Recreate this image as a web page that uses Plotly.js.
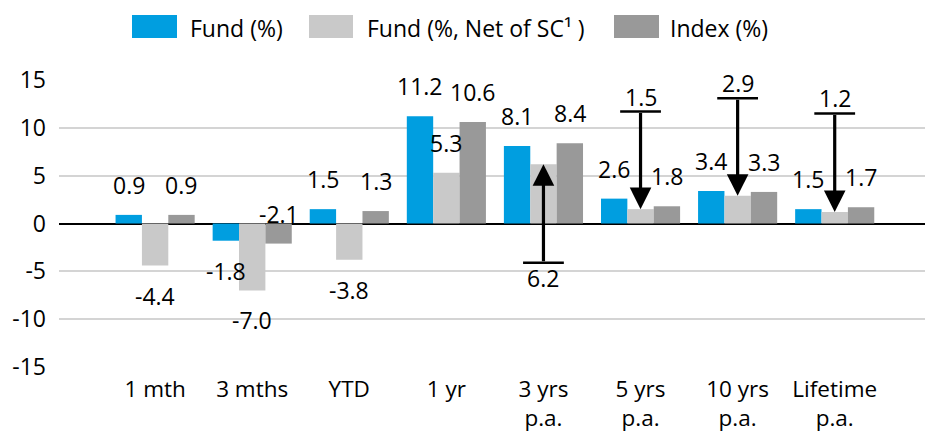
<!DOCTYPE html>
<html>
<head>
<meta charset="utf-8">
<script src="https://cdn.plot.ly/plotly-3.0.1.min.js"></script>
<style>html,body{margin:0;padding:0;background:#fff;}#chart{width:925px;height:433px;}</style>
</head>
<body>
<div id="chart"></div>
<script>
// ---- data ----
const categories = ['1 mth', '3 mths', 'YTD', '1 yr', '3 yrs<br>p.a.', '5 yrs<br>p.a.', '10 yrs<br>p.a.', 'Lifetime<br>p.a.'];
const seriesNames = ['Fund (%)', 'Fund (%, Net of SC\u00B9 )', 'Index (%)'];
const fund = [0.9, -1.8, 1.5, 11.2, 8.1, 2.6, 3.4, 1.5];
const fundNet = [-4.4, -7.0, -3.8, 5.3, 6.2, 1.5, 2.9, 1.2];
const indexVals = [0.9, -2.1, 1.3, 10.6, 8.4, 1.8, 3.3, 1.7];
const yTickVals = [-15, -10, -5, 0, 5, 10, 15];
const yTickText = ['-15', '-10', '-5', '0', '5', '10', '15'];

// ---- styling / layout ----
const colors = ['#009ee0', '#c9c9c9', '#999999'];
const FONT = 'Open Sans, Noto Sans, sans-serif';
const W = 925, H = 433;
const M = {l: 59, r: 0, t: 80, b: 66};
const bargap = 0.185;
const plotW = W - M.l - M.r, plotH = H - M.t - M.b;
const px2x = px => (px - M.l) / plotW;
const px2y = py => (H - M.b - py) / plotH;

const series = [fund, fundNet, indexVals];
const traces = series.map((vals, j) => ({
  type: 'bar', x: categories, y: vals, name: seriesNames[j],
  marker: {color: colors[j], line: {width: 0}},
  showlegend: false, hoverinfo: 'skip'
}));

const barW = (1 - bargap) / 3;
const annotations = [];
const shapes = [];
// net-of-SC values shown as callouts with arrows (categories 4..7)
const callouts = {4: -4.1, 5: 11.7, 6: 13.1, 7: 11.5};
// labels placed on the opposite side of the bar
const flipped = {'2_1': true};

series.forEach((vals, j) => {
  vals.forEach((v, i) => {
    if (j === 1 && callouts[i] !== undefined) return;
    let side = v >= 0 ? 1 : -1;
    if (flipped[j + '_' + i]) side = -side;
    annotations.push({
      x: i + (j - 1) * barW, y: v, xref: 'x', yref: 'y',
      text: v.toFixed(1), showarrow: false, yshift: side * 30,
      font: {family: FONT, size: 23, color: '#000'},
      xanchor: 'center', yanchor: 'middle'
    });
  });
});

Object.keys(callouts).forEach(k => {
  const i = +k, lineY = callouts[k], v = fundNet[i];
  const below = lineY < v;
  shapes.push({type: 'line', xref: 'x', yref: 'y', x0: i - 0.21, x1: i + 0.21, y0: lineY, y1: lineY,
    line: {color: '#000', width: 2.5}});
  annotations.push({x: i, y: v, xref: 'x', yref: 'y', axref: 'x', ayref: 'y', ax: i, ay: lineY,
    text: '', showarrow: true, arrowhead: 2, arrowsize: 1.35, arrowwidth: 3.2, arrowcolor: '#000',
    standoff: 0, startstandoff: 0});
  annotations.push({x: i, y: lineY, xref: 'x', yref: 'y', text: v.toFixed(1), showarrow: false,
    yshift: below ? -15 : 15, font: {family: FONT, size: 23, color: '#000'},
    xanchor: 'center', yanchor: 'middle'});
});

// custom legend
const legSq = [[132, 177], [309, 353], [614, 659]];
const legTx = [188, 365, 668];
seriesNames.forEach((n, j) => {
  shapes.push({type: 'rect', xref: 'paper', yref: 'paper',
    x0: px2x(legSq[j][0]), x1: px2x(legSq[j][1]), y0: px2y(38), y1: px2y(15),
    fillcolor: colors[j], line: {width: 0}});
  annotations.push({xref: 'paper', yref: 'paper', x: px2x(legTx[j]), y: px2y(28),
    text: n, showarrow: false, xanchor: 'left', yanchor: 'middle',
    font: {family: FONT, size: 23, color: '#000'}});
});

const layout = {
  width: W, height: H, margin: M,
  paper_bgcolor: '#fff', plot_bgcolor: '#fff',
  barmode: 'group', bargap: bargap, bargroupgap: 0,
  showlegend: false,
  font: {family: FONT, size: 22, color: '#000'},
  xaxis: {type: 'category', range: [-0.99, 7.93], showgrid: false, showline: false, zeroline: false,
    ticks: '', ticklabelstandoff: 6, tickfont: {family: FONT, size: 22.5, color: '#000'}, fixedrange: true},
  yaxis: {range: [-15, 15], tickvals: yTickVals, ticktext: yTickText, showgrid: true,
    gridcolor: '#d4d4d4', gridwidth: 2, zeroline: true, zerolinecolor: '#000', zerolinewidth: 2,
    showline: false, ticks: '', ticklabelstandoff: 12,
    tickfont: {family: FONT, size: 23, color: '#000'}, fixedrange: true},
  shapes: shapes, annotations: annotations
};

Plotly.newPlot('chart', traces, layout, {displayModeBar: false, staticPlot: true});
</script>
</body>
</html>
